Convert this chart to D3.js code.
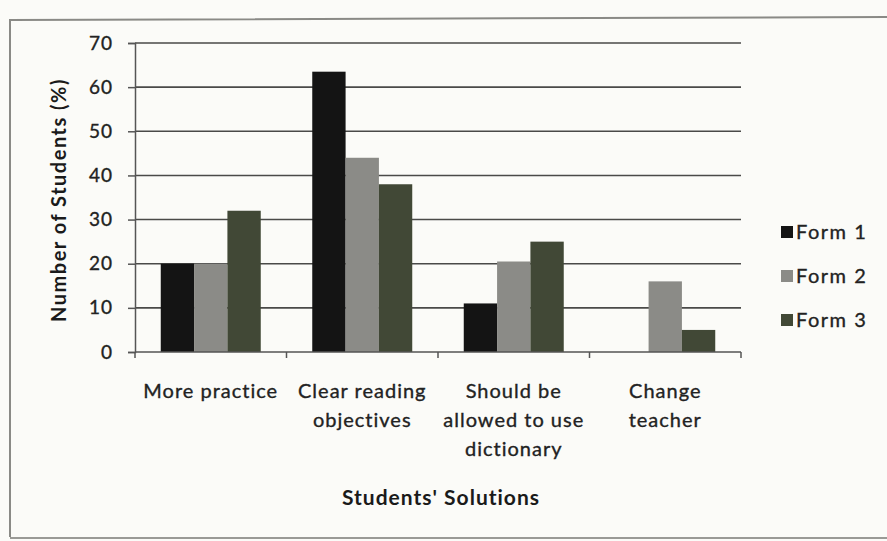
<!DOCTYPE html>
<html>
<head>
<meta charset="utf-8">
<script src="https://cdn.jsdelivr.net/npm/d3@7"></script>
<style>
  body { margin: 0; background: #fbfbf8; }
  svg { display: block; font-family: Lato, "Open Sans", sans-serif; }
  .lbl { fill: #222; stroke: #222; stroke-width: 0.35px; }
</style>
</head>
<body>
<div id="chart"></div>
<script>
/** --- DATA --- */
const categories = [
  ['More practice'],
  ['Clear reading', 'objectives'],
  ['Should be', 'allowed to use', 'dictionary'],
  ['Change', 'teacher']
];
const forms = ['Form 1', 'Form 2', 'Form 3'];
const form1 = [20, 63.5, 11, 0];
const form2 = [20, 44, 20.5, 16];
const form3 = [32, 38, 25, 5];
const yTicks = [0, 10, 20, 30, 40, 50, 60, 70];

/** --- DIMENSIONS + MISC --- */
const width = 887;
const height = 541;
const margin = { top: 43, left: 135, right: 146, bottom: 189 };
const colors = ['#141414', '#8b8b87', '#414836'];

const svg = d3.select('#chart')
  .append('svg')
  .attr('width', width)
  .attr('height', height);

// scanned page frame
svg.append('path')
  .attr('d', 'M10,537 L10,20 L887,17')
  .attr('fill', 'none')
  .attr('stroke', '#8a8a86')
  .attr('stroke-width', 2);
svg.append('line')
  .attr('x1', 10).attr('x2', 887)
  .attr('y1', 538).attr('y2', 538)
  .attr('stroke', '#9a9a96')
  .attr('stroke-width', 2);

/** --- SCALES --- */
const x0 = d3.scaleBand()
  .domain(d3.range(categories.length))
  .range([margin.left, width - margin.right])
  .paddingInner(0.34)
  .paddingOuter(0.17);

const x1 = d3.scaleBand()
  .domain(forms)
  .range([0, x0.bandwidth()]);

const y = d3.scaleLinear()
  .domain([0, 70])
  .range([height - margin.bottom, margin.top]);

const color = d3.scaleOrdinal().domain(forms).range(colors);

// gridlines
svg.append('g')
  .selectAll('line')
  .data(yTicks.slice(1))
  .join('line')
  .attr('x1', margin.left)
  .attr('x2', width - margin.right)
  .attr('y1', d => y(d))
  .attr('y2', d => y(d))
  .attr('stroke', '#4a4a48')
  .attr('stroke-width', 1.6);

// bars
const series = [form1, form2, form3];
const rows = [];
series.forEach((vals, si) => {
  vals.forEach((v, ci) => rows.push({ ci: ci, form: forms[si], value: v }));
});

svg.append('g')
  .selectAll('rect')
  .data(rows)
  .join('rect')
  .attr('x', d => x0(d.ci) + x1(d.form))
  .attr('y', d => y(d.value))
  .attr('width', x1.bandwidth())
  .attr('height', d => y(0) - y(d.value))
  .attr('fill', d => color(d.form));

/** --- AXES --- */
const yAxis = svg.append('g')
  .attr('transform', `translate(${margin.left},0)`)
  .call(d3.axisLeft(y).tickValues(yTicks).tickSize(7).tickPadding(15));
yAxis.select('.domain').attr('stroke', '#555').attr('stroke-width', 1.5);
yAxis.selectAll('.tick line').attr('stroke', '#555').attr('stroke-width', 1.5);
yAxis.selectAll('.tick text')
  .attr('class', 'lbl')
  .attr('font-size', 19)
  .attr('letter-spacing', 1)
  .attr('font-family', 'Lato, sans-serif');

// x baseline + boundary ticks
const step = x0.step();
const bounds = d3.range(categories.length + 1).map(i => margin.left + i * step);
svg.append('line')
  .attr('x1', margin.left).attr('x2', width - margin.right)
  .attr('y1', y(0)).attr('y2', y(0))
  .attr('stroke', '#555').attr('stroke-width', 1.5);
svg.append('g')
  .selectAll('line')
  .data(bounds)
  .join('line')
  .attr('x1', d => d).attr('x2', d => d)
  .attr('y1', y(0)).attr('y2', y(0) + 6)
  .attr('stroke', '#555').attr('stroke-width', 1.5);

// category labels
const labels = svg.append('g')
  .selectAll('text')
  .data(categories)
  .join('text')
  .attr('class', 'lbl')
  .attr('text-anchor', 'middle')
  .attr('font-size', 20)
  .attr('letter-spacing', 1)
  .attr('transform', (d, i) => `translate(${x0(i) + x0.bandwidth() / 2},${y(0) + 46})`);
labels.selectAll('tspan')
  .data(d => d)
  .join('tspan')
  .attr('x', 0)
  .attr('y', (d, i) => i * 29)
  .text(d => d);

// axis titles
svg.append('text')
  .attr('x', 441)
  .attr('y', 505)
  .attr('text-anchor', 'middle')
  .attr('font-size', 21)
  .attr('letter-spacing', 1)
  .attr('font-weight', 'bold')
  .attr('fill', '#1a1a1a')
  .text('Students\' Solutions');

svg.append('text')
  .attr('transform', 'translate(66,200) rotate(-90)')
  .attr('text-anchor', 'middle')
  .attr('font-size', 20)
  .attr('letter-spacing', 1.5)
  .attr('font-weight', 'bold')
  .attr('fill', '#1a1a1a')
  .text('Number of Students (%)');

/** --- LEGEND --- */
const legend = svg.append('g')
  .selectAll('g')
  .data(forms)
  .join('g')
  .attr('transform', (d, i) => `translate(781,${232 + i * 44})`);
legend.append('rect')
  .attr('x', 0).attr('y', -6)
  .attr('width', 12).attr('height', 12)
  .attr('fill', d => color(d));
legend.append('text')
  .attr('class', 'lbl')
  .attr('x', 15)
  .attr('y', 7)
  .attr('font-size', 20)
  .attr('letter-spacing', 1.5)
  .text(d => d);
</script>
</body>
</html>
